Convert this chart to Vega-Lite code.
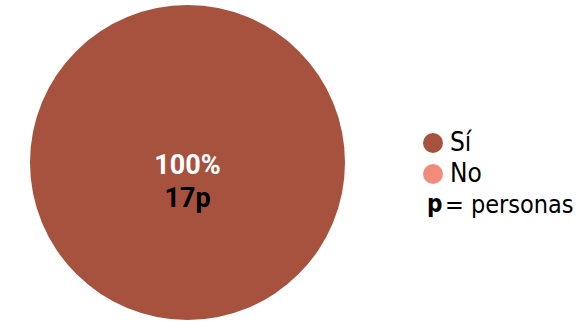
{
  "$schema": "https://vega.github.io/schema/vega-lite/v6.json",
  "width": 315,
  "height": 315,
  "autosize": {"type": "none"},
  "padding": {"left": 30, "top": 5, "right": 234, "bottom": 1},
  "background": "white",
  "config": {"view": {"stroke": null}},
  "datasets": {
    "respuestas": [
      {"respuesta": "Sí", "personas": 17, "porcentaje": "100%", "etiqueta": "17p"},
      {"respuesta": "No", "personas": 0, "porcentaje": "0%", "etiqueta": "0p"}
    ],
    "nota": [
      {"nota": "= personas"}
    ]
  },
  "layer": [
    {
      "data": {"name": "respuestas"},
      "mark": {"type": "arc", "outerRadius": 157.5, "stroke": null},
      "encoding": {
        "theta": {"field": "personas", "type": "quantitative", "stack": true},
        "color": {
          "field": "respuesta",
          "type": "nominal",
          "sort": ["Sí", "No"],
          "scale": {"domain": ["Sí", "No"], "range": ["#A7523F", "#F28C7A"]},
          "legend": {
            "title": null,
            "orient": "none",
            "legendX": 390,
            "legendY": 125,
            "symbolType": "circle",
            "symbolSize": 400,
            "symbolStrokeWidth": 0,
            "labelFont": "DejaVu Sans Condensed",
            "labelFontSize": 26,
            "labelOffset": 4,
            "rowPadding": 5,
            "padding": 0,
            "encode": {
              "labels": {
                "update": {
                  "fill": {"signal": "datum.value === 'Sí' ? '#A7523F' : '#F28C7A'"}
                }
              }
            }
          }
        }
      }
    },
    {
      "data": {"name": "respuestas"},
      "transform": [{"filter": "datum.personas > 0"}],
      "mark": {"type": "text", "font": "Roboto", "fontWeight": "bold", "fontSize": 27, "color": "white", "dy": 3},
      "encoding": {"text": {"field": "porcentaje", "type": "nominal"}}
    },
    {
      "data": {"name": "respuestas"},
      "transform": [{"filter": "datum.personas > 0"}],
      "mark": {"type": "text", "font": "Roboto", "fontWeight": "bold", "fontSize": 27, "color": "black", "dy": 36},
      "encoding": {"text": {"field": "etiqueta", "type": "nominal"}}
    },
    {
      "data": {"name": "nota"},
      "mark": {"type": "point", "opacity": 0},
      "encoding": {
        "shape": {
          "field": "nota",
          "type": "nominal",
          "legend": {
            "title": "p",
            "titleOrient": "left",
            "titleAnchor": "middle",
            "titleBaseline": "middle",
            "titleFont": "DejaVu Sans Condensed",
            "titleFontWeight": "bold",
            "titleFontSize": 24,
            "titleColor": "black",
            "titlePadding": 0,
            "orient": "none",
            "legendX": 397,
            "legendY": 187,
            "symbolSize": 1,
            "symbolStrokeWidth": 0,
            "symbolOpacity": 0,
            "labelFont": "DejaVu Sans Condensed",
            "labelFontSize": 25,
            "labelColor": "black",
            "labelOffset": -23,
            "padding": 0
          }
        }
      }
    }
  ]
}
